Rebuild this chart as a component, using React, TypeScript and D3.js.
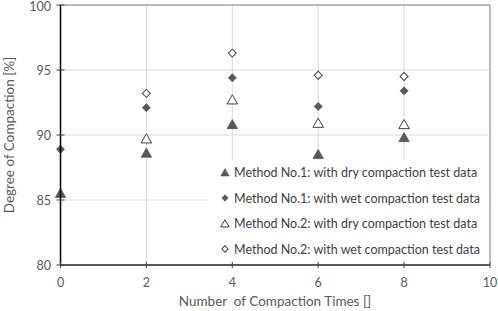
import React from "react";
import * as d3 from "d3";

const xTicks = [0, 2, 4, 6, 8, 10];
const yTicks = [80, 85, 90, 95, 100];

const m1DryX = [0, 2, 4, 6, 8];
const m1DryY = [85.5, 88.6, 90.8, 88.5, 89.8];
const m1WetX = [0, 2, 4, 6, 8];
const m1WetY = [88.9, 92.1, 94.4, 92.2, 93.4];
const m2DryX = [2, 4, 6, 8];
const m2DryY = [89.7, 92.7, 90.9, 90.8];
const m2WetX = [2, 4, 6, 8];
const m2WetY = [93.2, 96.3, 94.6, 94.5];

const legendLabels = [
  "Method No.1: with dry compaction test data",
  "Method No.1: with wet compaction test data",
  "Method No.2: with dry compaction test data",
  "Method No.2: with wet compaction test data",
];

const W = 498;
const H = 311;
const L = 60.5, R = 490, T = 5, B = 265;
const FONT = "Lato, 'Open Sans', sans-serif";

const x = d3.scaleLinear().domain([0, 10]).range([L, R]);
const y = d3.scaleLinear().domain([80, 100]).range([B, T]);

const triPath = d3.symbol().type(d3.symbolTriangle).size(48)()!;
const diaPath = d3.symbol().type(d3.symbolSquare).size(32)()!;

type Series = { xs: number[]; ys: number[]; shape: "tri" | "dia"; filled: boolean };
const series: Series[] = [
  { xs: m1DryX, ys: m1DryY, shape: "tri", filled: true },
  { xs: m1WetX, ys: m1WetY, shape: "dia", filled: true },
  { xs: m2DryX, ys: m2DryY, shape: "tri", filled: false },
  { xs: m2WetX, ys: m2WetY, shape: "dia", filled: false },
];

function Marker({ cx, cy, s, scale = 1 }: { cx: number; cy: number; s: Series; scale?: number }) {
  const d = s.shape === "tri" ? triPath : diaPath;
  const rot = s.shape === "dia" ? 45 : 0;
  const dy = s.shape === "tri" ? 1 : 0;
  return (
    <path
      d={d}
      transform={`translate(${cx},${cy + dy}) rotate(${rot}) scale(${scale})`}
      fill={s.filled ? "#595959" : "#ffffff"}
      stroke={s.filled ? "#595959" : "#404040"}
      strokeWidth={s.filled ? 0.8 : 1 / scale}
    />
  );
}

export default function App() {
  return (
    <svg width={W} height={H} style={{ position: "absolute", left: 0, top: 0, background: "#fff" }}>
      <rect x={0} y={0} width={W} height={H} fill="#fff" />
      {/* gridlines */}
      {xTicks.slice(1, -1).map((t) => (
        <line key={"gx" + t} x1={x(t)} x2={x(t)} y1={T} y2={B} stroke="#d9d9d9" strokeWidth={1} />
      ))}
      {yTicks.slice(1, -1).map((t) => (
        <line key={"gy" + t} x1={L} x2={R} y1={y(t)} y2={y(t)} stroke="#d9d9d9" strokeWidth={1} />
      ))}
      {/* border top/right */}
      <line x1={L} x2={R} y1={T} y2={T} stroke="#a6a6a6" strokeWidth={1.5} />
      <line x1={R} x2={R} y1={T} y2={B} stroke="#a6a6a6" strokeWidth={1.5} />
      {/* legend background */}
      <rect x={207} y={160} width={281} height={103} fill="#fff" />
      {/* data */}
      {series.map((s, i) =>
        s.xs.map((xv, j) => <Marker key={i + "-" + j} cx={x(xv)} cy={y(s.ys[j])} s={s} />)
      )}
      {/* axes */}
      <line x1={L} x2={R} y1={B} y2={B} stroke="#595959" strokeWidth={2} />
      <line x1={L} x2={L} y1={T} y2={B} stroke="#000" strokeWidth={1.5} />
      {xTicks.map((t) => (
        <line key={"tx" + t} x1={x(t)} x2={x(t)} y1={B - 3} y2={B + 3} stroke="#404040" strokeWidth={1} />
      ))}
      {yTicks.map((t) => (
        <line key={"ty" + t} x1={L - 4} x2={L + 4} y1={y(t)} y2={y(t)} stroke="#404040" strokeWidth={1} />
      ))}
      {/* tick labels */}
      {xTicks.map((t) => (
        <text key={"lx" + t} x={x(t)} y={287} textAnchor="middle" fontFamily={FONT} fontSize={12.5} fill="#595959">
          {t}
        </text>
      ))}
      {yTicks.map((t) => (
        <text key={"ly" + t} x={51} y={Math.max(y(t) + 4.5, 10.5)} textAnchor="end" fontFamily={FONT} fontSize={12.5} fill="#595959">
          {t}
        </text>
      ))}
      {/* axis titles */}
      <text x={275} y={306} textAnchor="middle" fontFamily={FONT} fontSize={13.5} fill="#595959" xmlSpace="preserve">
        {"Number  of Compaction Times []"}
      </text>
      <text
        transform={`translate(14,${135}) rotate(-90)`}
        textAnchor="middle"
        fontFamily={FONT}
        fontSize={13.5}
        fill="#595959"
      >
        Degree of Compaction [%]
      </text>
      {/* legend */}
      {legendLabels.map((lab, i) => {
        const cy = 172.5 + i * 25.5;
        return (
          <g key={"lg" + i}>
            <Marker cx={225} cy={cy} s={series[i]} scale={0.8} />
            <text x={234} y={cy + 4.5} fontFamily={FONT} fontSize={12.5} fill="#404040">
              {lab}
            </text>
          </g>
        );
      })}
    </svg>
  );
}
